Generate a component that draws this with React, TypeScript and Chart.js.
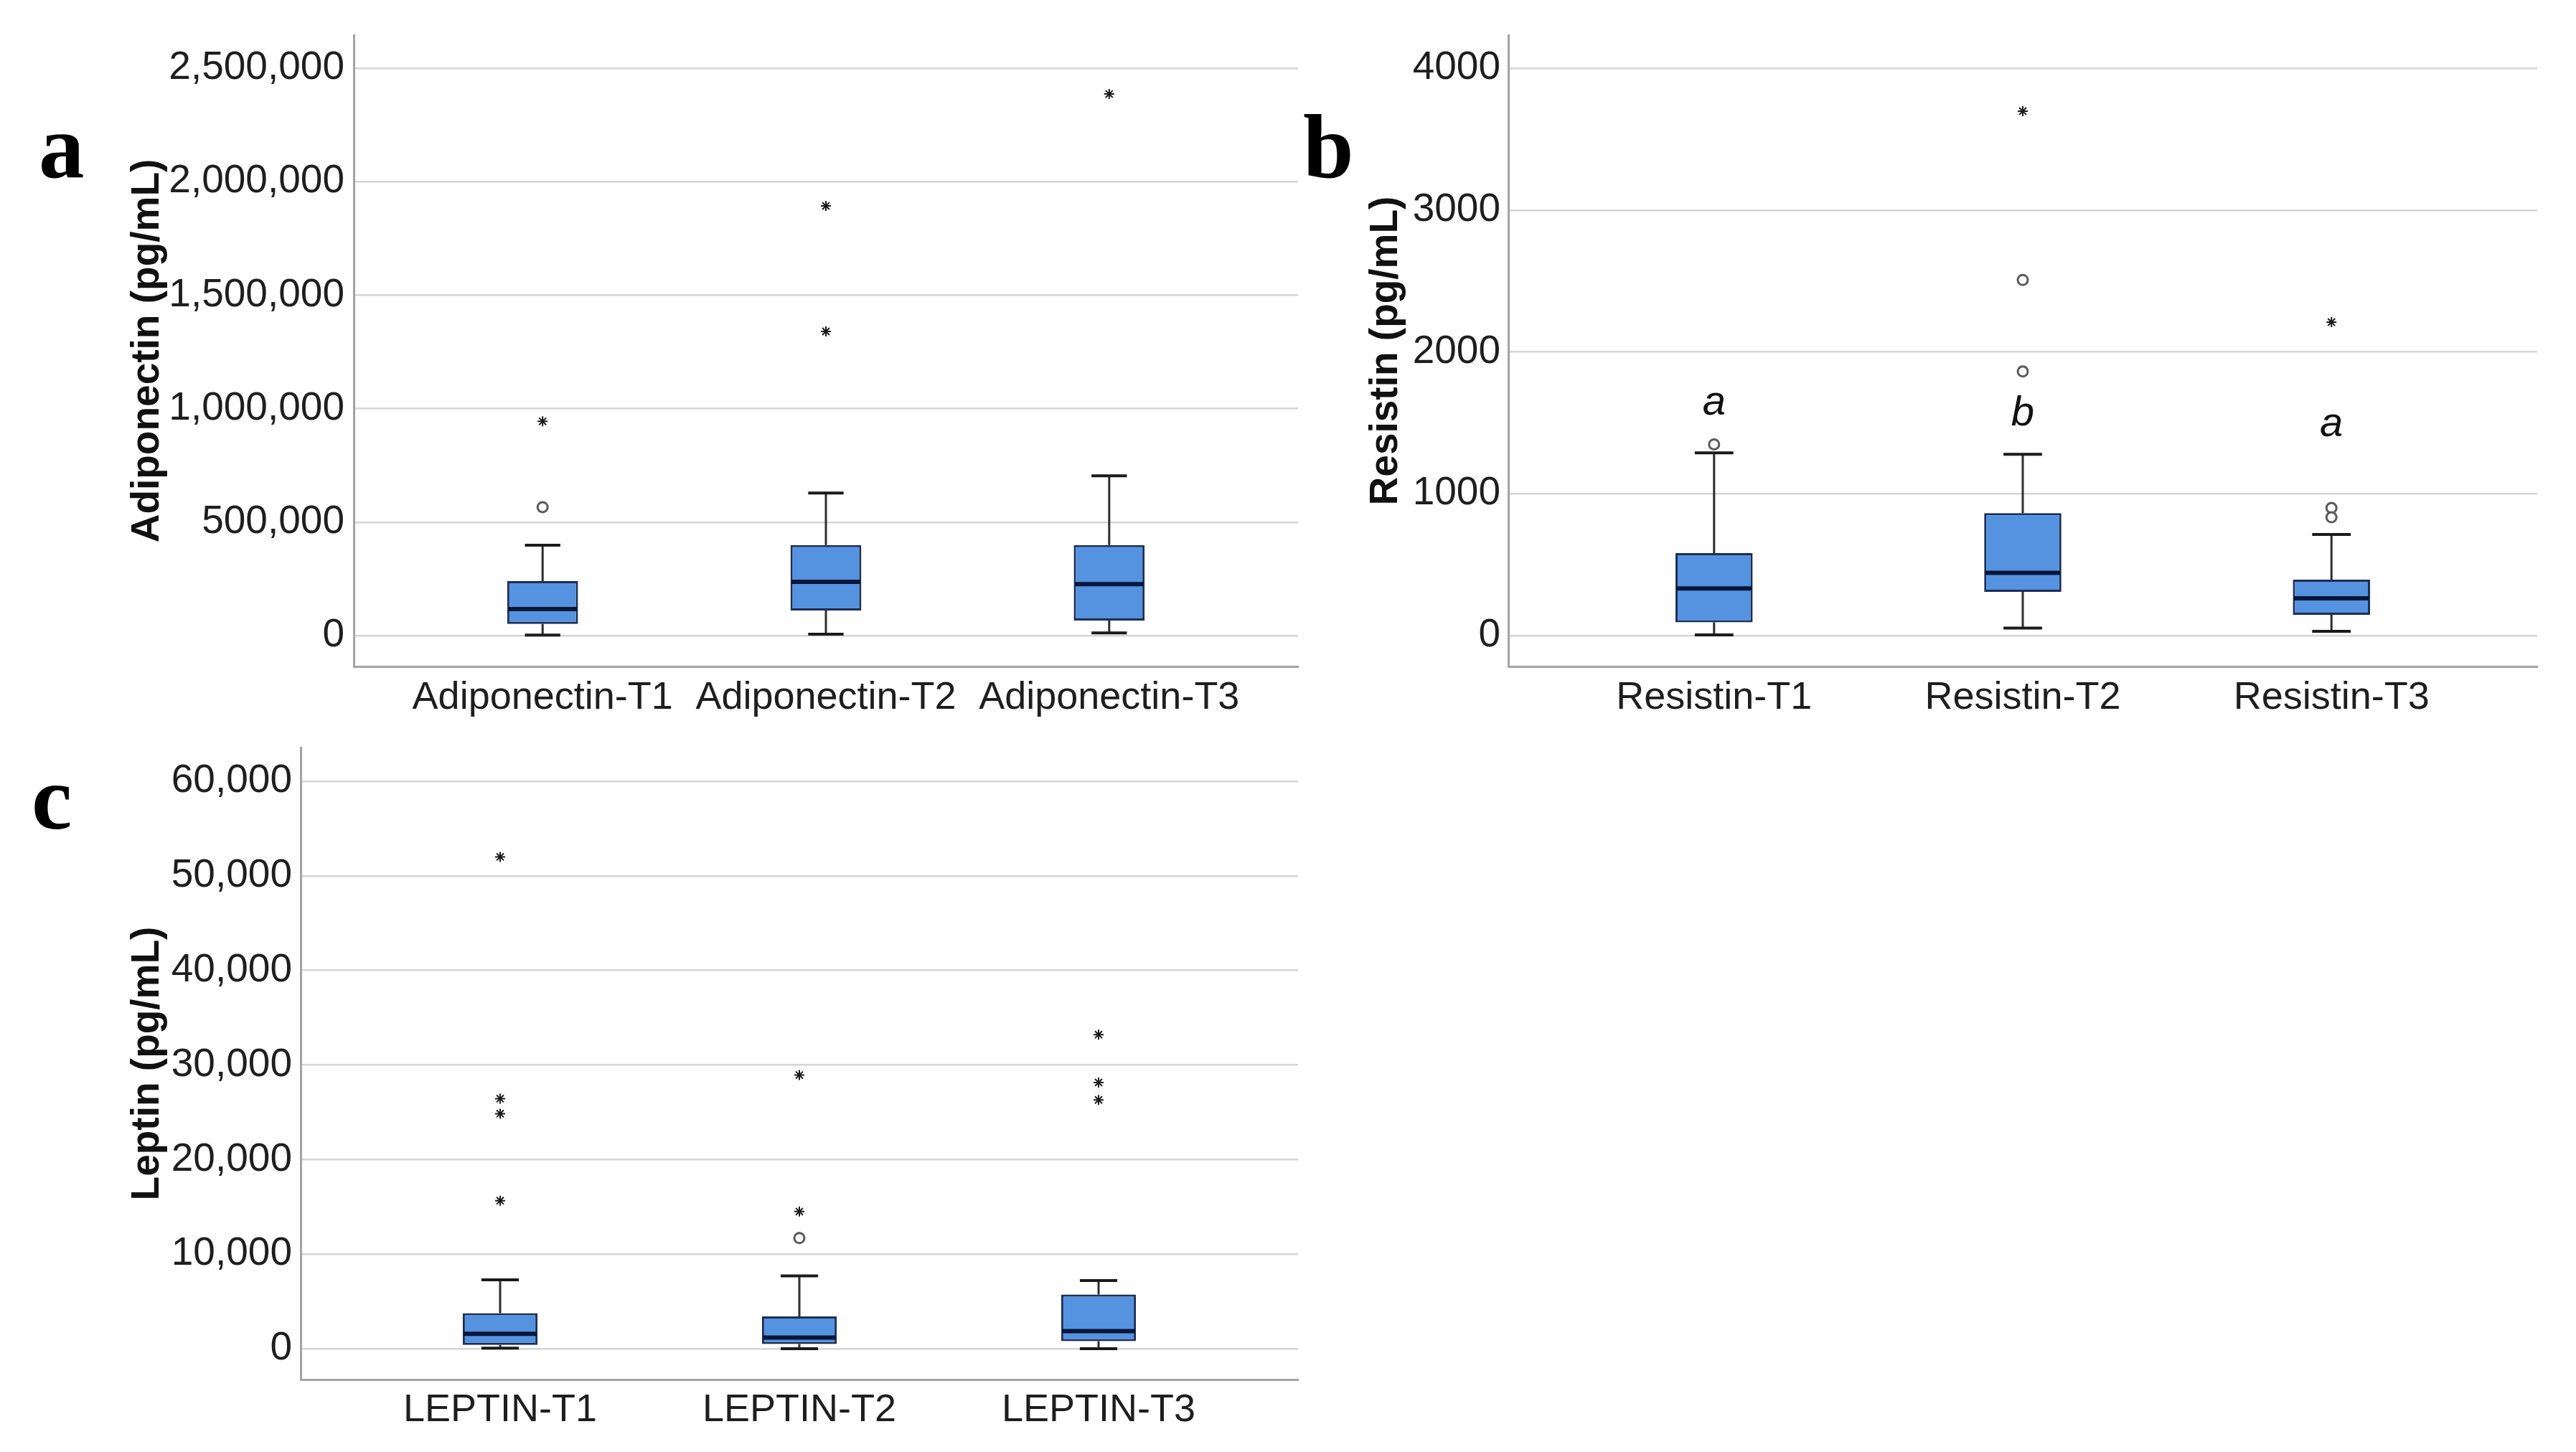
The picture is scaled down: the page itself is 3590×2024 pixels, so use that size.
import React, { useEffect, useRef } from "react";
import { Chart, registerables } from "chart.js";

Chart.register(...registerables);

// ---------- Panel a: Adiponectin ----------
const adipoCategories = ["Adiponectin-T1", "Adiponectin-T2", "Adiponectin-T3"];
const adipoMin = [2000, 6000, 12000];
const adipoQ1 = [51000, 111000, 66000];
const adipoMedian = [117000, 237000, 227000];
const adipoQ3 = [240000, 399000, 399000];
const adipoMax = [398000, 628000, 704000];
const adipoOutliers = [[566000], [], []];
const adipoExtremes = [[944000], [1893000, 1340000], [2386000]];
const adipoTicks = [0, 500000, 1000000, 1500000, 2000000, 2500000];

// ---------- Panel b: Resistin ----------
const resistinCategories = ["Resistin-T1", "Resistin-T2", "Resistin-T3"];
const resistinMin = [5, 53, 30];
const resistinQ1 = [93, 309, 147];
const resistinMedian = [332, 443, 263];
const resistinQ3 = [582, 863, 394];
const resistinMax = [1288, 1278, 713];
const resistinOutliers = [[1348], [2507, 1862], [900, 834]];
const resistinExtremes = [[], [3697], [2210]];
const resistinTicks = [0, 1000, 2000, 3000, 4000];
const resistinLetters = ["a", "b", "a"];
const resistinLetterBaseline = [1556, 1482, 1406];

// ---------- Panel c: Leptin ----------
const leptinCategories = ["LEPTIN-T1", "LEPTIN-T2", "LEPTIN-T3"];
const leptinMin = [50, 0, 0];
const leptinQ1 = [400, 500, 790];
const leptinMedian = [1580, 1180, 1850];
const leptinQ3 = [3760, 3420, 5720];
const leptinMax = [7280, 7700, 7210];
const leptinOutliers = [[], [11700], []];
const leptinExtremes = [[52000, 26440, 24850, 15650], [28930, 14500], [33210, 28150, 26300]];
const leptinTicks = [0, 10000, 20000, 30000, 40000, 50000, 60000];

const BOX_FILL = "#5593e0";
const BOX_BORDER = "#1c2d55";
const MEDIAN_COLOR = "#081638";
const WHISKER_COLOR = "#2e2e2e";
const GRID_COLOR = "#d5d5d5";
const AXIS_COLOR = "#a3a3a3";
const TEXT_COLOR = "#1e1e1e";
const FONT = "'Liberation Sans', Arial, sans-serif";

type PanelSpec = {
  cats: string[];
  mins: number[];
  q1: number[];
  med: number[];
  q3: number[];
  maxs: number[];
  outliers: number[][];
  extremes: number[][];
  ticks: number[];
  yMin: number;
  yMax: number;
  yTitle: string;
  fmt: (v: number) => string;
  yWidth: number;
  titlePad: number;
  xHeight: number;
  padTop: number;
  padRight: number;
  tickPadY: number;
  tickPadX: number;
  letters?: string[];
  letterBase?: number[];
};

function makeConfig(p: PanelSpec): any {
  const boxPlugin = {
    id: "boxWhisker",
    beforeDatasetsDraw(chart: any) {
      const { ctx } = chart;
      const x = chart.scales.x;
      const y = chart.scales.y;
      const meta = chart.getDatasetMeta(0);
      ctx.save();
      p.cats.forEach((_, i) => {
        const bar = meta.data[i];
        const px = x.getPixelForValue(i + 1);
        const capHalf = bar.width / 4;
        const yQ1 = y.getPixelForValue(p.q1[i]);
        const yQ3 = y.getPixelForValue(p.q3[i]);
        const yMn = y.getPixelForValue(p.mins[i]);
        const yMx = y.getPixelForValue(p.maxs[i]);
        ctx.strokeStyle = WHISKER_COLOR;
        ctx.lineWidth = 3;
        ctx.beginPath();
        ctx.moveTo(px, yQ3);
        ctx.lineTo(px, yMx);
        ctx.moveTo(px, yQ1);
        ctx.lineTo(px, yMn);
        ctx.stroke();
        ctx.strokeStyle = "#1a1a1a";
        ctx.lineWidth = 4;
        ctx.beginPath();
        ctx.moveTo(px - capHalf, yMx);
        ctx.lineTo(px + capHalf, yMx);
        ctx.moveTo(px - capHalf, yMn);
        ctx.lineTo(px + capHalf, yMn);
        ctx.stroke();
      });
      ctx.restore();
    },
    afterDatasetsDraw(chart: any) {
      const { ctx } = chart;
      const x = chart.scales.x;
      const y = chart.scales.y;
      const meta = chart.getDatasetMeta(0);
      ctx.save();
      p.cats.forEach((_, i) => {
        const bar = meta.data[i];
        const px = x.getPixelForValue(i + 1);
        const half = bar.width / 2;
        const ym = y.getPixelForValue(p.med[i]);
        ctx.strokeStyle = MEDIAN_COLOR;
        ctx.lineWidth = 6;
        ctx.beginPath();
        ctx.moveTo(px - half + 1.5, ym);
        ctx.lineTo(px + half - 1.5, ym);
        ctx.stroke();
      });
      if (p.letters && p.letterBase) {
        ctx.fillStyle = "#111";
        ctx.font = `italic 58px ${FONT}`;
        ctx.textAlign = "center";
        ctx.textBaseline = "alphabetic";
        p.letters.forEach((l, i) => {
          ctx.fillText(l, x.getPixelForValue(i + 1), y.getPixelForValue(p.letterBase![i]));
        });
      }
      ctx.restore();
    },
  };

  const pts = (arr: number[][]) =>
    arr.flatMap((vals, i) => vals.map((v) => ({ x: i + 1, y: v })));

  return {
    type: "bar",
    data: {
      datasets: [
        {
          type: "bar",
          data: p.cats.map((_, i) => ({ x: i + 1, y: [p.q1[i], p.q3[i]] })),
          backgroundColor: BOX_FILL,
          borderColor: BOX_BORDER,
          borderWidth: 3,
          borderSkipped: false,
          categoryPercentage: 1,
          barPercentage: 0.25,
        },
        {
          type: "scatter",
          data: pts(p.outliers),
          pointStyle: "circle",
          radius: 7,
          borderWidth: 3,
          borderColor: "#5a5a5a",
          backgroundColor: "#ffffff",
        },
        {
          type: "scatter",
          data: pts(p.extremes),
          pointStyle: "star",
          radius: 7,
          borderWidth: 2,
          borderColor: "#1a1a1a",
          backgroundColor: "#1a1a1a",
        },
      ],
    },
    options: {
      responsive: false,
      animation: false,
      events: [],
      layout: { padding: { left: 0, top: p.padTop, right: p.padRight, bottom: 0 } },
      plugins: { legend: { display: false }, tooltip: { enabled: false } },
      scales: {
        x: {
          type: "linear",
          offset: false,
          min: 1 - 2 / 3,
          max: p.cats.length + 2 / 3,
          afterBuildTicks: (s: any) => {
            s.ticks = p.cats.map((_, i) => ({ value: i + 1 }));
          },
          afterFit: (s: any) => {
            s.height = p.xHeight;
            s.paddingLeft = 0;
            s.paddingRight = 0;
          },
          ticks: {
            callback: (v: number) => p.cats[Math.round(v) - 1],
            font: { family: FONT, size: 54, lineHeight: 1.2 },
            color: TEXT_COLOR,
            padding: p.tickPadX,
            maxRotation: 0,
            minRotation: 0,
            autoSkip: false,
          },
          grid: { display: false, drawTicks: false, offset: false },
          border: { display: true, color: AXIS_COLOR, width: 3 },
        },
        y: {
          type: "linear",
          min: p.yMin,
          max: p.yMax,
          afterBuildTicks: (s: any) => {
            s.ticks = p.ticks.map((v) => ({ value: v }));
          },
          afterFit: (s: any) => {
            s.width = p.yWidth;
            s.paddingTop = 0;
            s.paddingBottom = 0;
          },
          ticks: {
            callback: (v: number) => p.fmt(v),
            font: { family: FONT, size: 55, lineHeight: 1.2 },
            color: TEXT_COLOR,
            padding: p.tickPadY,
          },
          grid: { color: GRID_COLOR, lineWidth: 2.5, drawTicks: false },
          border: { display: true, color: AXIS_COLOR, width: 3 },
          title: {
            display: true,
            text: p.yTitle,
            color: "#111",
            font: { family: FONT, size: 55, weight: "bold", lineHeight: 1 },
            padding: { top: p.titlePad, bottom: 0 },
          },
        },
      },
    },
    plugins: [boxPlugin],
  };
}

const comma = (v: number) => v.toLocaleString("en-US");

const panelA = makeConfig({
  cats: adipoCategories,
  mins: adipoMin,
  q1: adipoQ1,
  med: adipoMedian,
  q3: adipoQ3,
  maxs: adipoMax,
  outliers: adipoOutliers,
  extremes: adipoExtremes,
  ticks: adipoTicks,
  yMin: -135900,
  yMax: 2645400,
  yTitle: "Adiponectin (pg/mL)",
  fmt: comma,
  yWidth: 493,
  titlePad: 178,
  xHeight: 81,
  padTop: 49,
  padRight: 21,
  tickPadY: 13,
  tickPadX: 12,
});

const panelB = makeConfig({
  cats: resistinCategories,
  mins: resistinMin,
  q1: resistinQ1,
  med: resistinMedian,
  q3: resistinQ3,
  maxs: resistinMax,
  outliers: resistinOutliers,
  extremes: resistinExtremes,
  ticks: resistinTicks,
  yMin: -217.4,
  yMax: 4232.6,
  yTitle: "Resistin (pg/mL)",
  fmt: (v: number) => String(v),
  yWidth: 272,
  titlePad: 74,
  xHeight: 81,
  padTop: 49,
  padRight: 54,
  tickPadY: 11,
  tickPadX: 12,
  letters: resistinLetters,
  letterBase: resistinLetterBaseline,
});

const panelC = makeConfig({
  cats: leptinCategories,
  mins: leptinMin,
  q1: leptinQ1,
  med: leptinMedian,
  q3: leptinQ3,
  maxs: leptinMax,
  outliers: leptinOutliers,
  extremes: leptinExtremes,
  ticks: leptinTicks,
  yMin: -3262,
  yMax: 63565,
  yTitle: "Leptin (pg/mL)",
  fmt: comma,
  yWidth: 419,
  titlePad: 178,
  xHeight: 101,
  padTop: 32,
  padRight: 21,
  tickPadY: 12,
  tickPadX: 11,
});

function Panel(props: { config: any; left: number; top: number; width: number; height: number }) {
  const ref = useRef<HTMLCanvasElement>(null);
  useEffect(() => {
    const chart = new Chart(ref.current as HTMLCanvasElement, props.config);
    return () => chart.destroy();
  }, []);
  return (
    <canvas
      ref={ref}
      width={props.width}
      height={props.height}
      style={{
        position: "absolute",
        left: props.left,
        top: props.top,
        width: props.width,
        height: props.height,
      }}
    />
  );
}

const letterStyle: React.CSSProperties = {
  position: "absolute",
  fontFamily: "'Liberation Serif', 'Times New Roman', serif",
  fontWeight: "bold",
  fontSize: 127,
  lineHeight: 1,
  color: "#000",
  margin: 0,
};

export default function App() {
  return (
    <div
      style={{
        position: "absolute",
        left: 0,
        top: 0,
        width: 3590,
        height: 2024,
        background: "#ffffff",
        overflow: "hidden",
      }}
    >
      <Panel config={panelA} left={0} top={0} width={1830} height={1010} />
      <Panel config={panelB} left={1830} top={0} width={1760} height={1010} />
      <Panel config={panelC} left={0} top={1010} width={1830} height={1014} />
      <span style={{ ...letterStyle, left: 54, top: 141 }}>a</span>
      <span style={{ ...letterStyle, left: 1816, top: 141 }}>b</span>
      <span style={{ ...letterStyle, left: 44, top: 1049 }}>c</span>
    </div>
  );
}
